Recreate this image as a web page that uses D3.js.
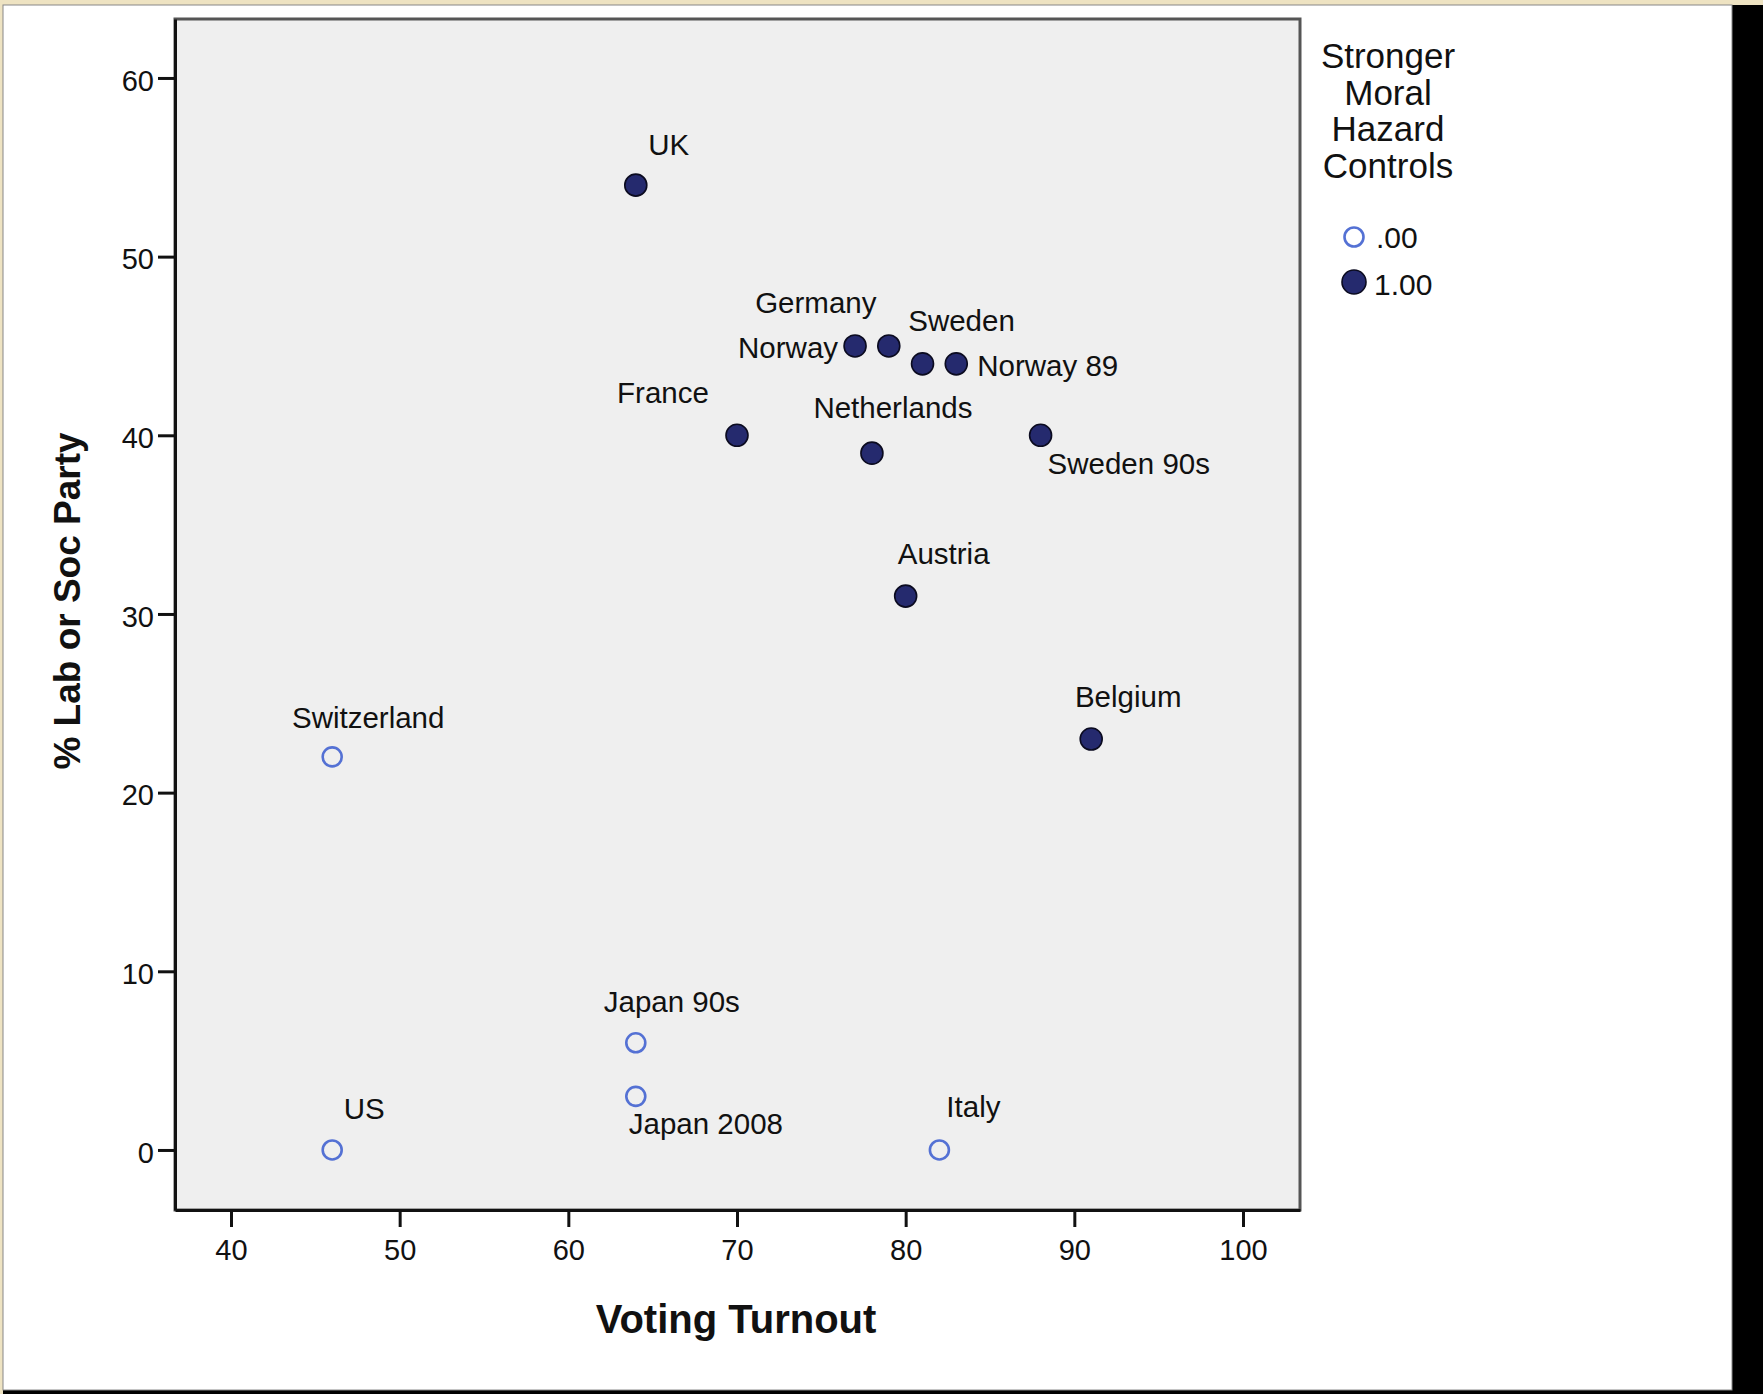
<!DOCTYPE html>
<html>
<head>
<meta charset="utf-8">
<script src="https://cdn.jsdelivr.net/npm/d3@7"></script>
<style>
  html, body { margin: 0; padding: 0; background: #eee3c2; }
  svg { display: block; }
  text { font-family: "Liberation Sans", Arial, Helvetica, sans-serif; fill: #111; }
</style>
</head>
<body>
<svg id="chart" width="1763" height="1394"></svg>
<script>
// ---- data ----
const countries = ["UK", "Germany", "Norway", "Sweden", "Norway 89", "France", "Netherlands",
                   "Sweden 90s", "Austria", "Belgium", "Switzerland", "Japan 90s", "Japan 2008", "US", "Italy"];
const turnout   = [64, 79, 77, 81, 83, 70, 78, 88, 80, 91, 46, 64, 64, 46, 82];
const labSoc    = [54, 45, 45, 44, 44, 40, 39, 40, 31, 23, 22, 6, 3, 0, 0];
const controls  = [1, 1, 1, 1, 1, 1, 1, 1, 1, 1, 0, 0, 0, 0, 0];
const xTicks = [40, 50, 60, 70, 80, 90, 100];
const yTicks = [0, 10, 20, 30, 40, 50, 60];
const legendValues = [0, 1];
const legendLabels = [".00", "1.00"];
const legendTitle = ["Stronger", "Moral", "Hazard", "Controls"];
const xTitle = "Voting Turnout";
const yTitle = "% Lab or Soc Party";

// ---- label placement (style, px offsets from the point) ----
const labelPlace = {
  "UK": [33, -30, "middle"],
  "Germany": [-73, -33, "middle"],
  "Norway": [-17, 12, "end"],
  "Sweden": [39, -33, "middle"],
  "Norway 89": [21, 12, "start"],
  "France": [-74, -32, "middle"],
  "Netherlands": [21, -35, "middle"],
  "Sweden 90s": [7, 39, "start"],
  "Austria": [38, -32, "middle"],
  "Belgium": [37, -32, "middle"],
  "Switzerland": [36, -29, "middle"],
  "Japan 90s": [36, -31, "middle"],
  "Japan 2008": [-7, 38, "start"],
  "US": [32, -31, "middle"],
  "Italy": [34, -33, "middle"]
};

const data = countries.map((c, i) => ({ name: c, x: turnout[i], y: labSoc[i], g: controls[i] }));

const svg = d3.select("#chart");

// page panel (white card with dark shadow edge)
svg.append("rect").attr("x", 0).attr("y", 0).attr("width", 1763).attr("height", 1394).attr("fill", "#eee3c2");
svg.append("rect").attr("x", 3).attr("y", 5).attr("width", 1760).attr("height", 1389).attr("fill", "#000");
svg.append("rect").attr("x", 3).attr("y", 5).attr("width", 1729).attr("height", 1385)
   .attr("fill", "#fff").attr("stroke", "#888").attr("stroke-width", 1);

const L = 175, R = 1300, T = 19, B = 1210;
const x = d3.scaleLinear().domain([36.68, 103.38]).range([L, R]);
const y = d3.scaleLinear().domain([-3.36, 63.30]).range([B, T]);

// plot background + frame
svg.append("rect").attr("x", L).attr("y", T).attr("width", R - L).attr("height", B - T)
   .attr("fill", "#efefef").attr("stroke", "#555").attr("stroke-width", 3);

// axes
const yAxis = svg.append("g").attr("transform", `translate(${L},0)`)
  .call(d3.axisLeft(y).tickValues(yTicks).tickFormat(d3.format("d")).tickSize(17).tickSizeOuter(0).tickPadding(4));
const xAxis = svg.append("g").attr("transform", `translate(0,${B})`)
  .call(d3.axisBottom(x).tickValues(xTicks).tickFormat(d3.format("d")).tickSize(17).tickSizeOuter(0).tickPadding(12));

[xAxis, yAxis].forEach(a => {
  a.select(".domain").attr("stroke", "#111").attr("stroke-width", 3);
  a.selectAll(".tick line").attr("stroke", "#111").attr("stroke-width", 3);
  a.selectAll(".tick text").attr("font-size", 29).attr("fill", "#111")
    .style("font-family", '"Liberation Sans", Arial, sans-serif');
});
yAxis.selectAll(".tick text").attr("dy", "0.42em");

// axis titles
svg.append("text").attr("x", 736).attr("y", 1333).attr("text-anchor", "middle")
   .attr("font-size", 40).attr("font-weight", "bold").text(xTitle);
svg.append("text").attr("transform", "translate(80,601) rotate(-90)").attr("text-anchor", "middle")
   .attr("font-size", 37).attr("font-weight", "bold").text(yTitle);

// points
const pts = svg.append("g");
pts.selectAll("circle").data(data).join("circle")
  .attr("cx", d => x(d.x)).attr("cy", d => y(d.y))
  .attr("r", d => d.g ? 11 : 9.5)
  .attr("fill", d => d.g ? "#252a6e" : "none")
  .attr("stroke", d => d.g ? "#0b0b20" : "#5471d4")
  .attr("stroke-width", d => d.g ? 1.6 : 2.6);

// point labels
svg.append("g").selectAll("text").data(data).join("text")
  .attr("x", d => x(d.x) + labelPlace[d.name][0])
  .attr("y", d => y(d.y) + labelPlace[d.name][1])
  .attr("text-anchor", d => labelPlace[d.name][2])
  .attr("font-size", 29.5)
  .text(d => d.name);

// legend
const lg = svg.append("g");
lg.selectAll("text.title").data(legendTitle).join("text").attr("class", "title")
  .attr("x", 1388).attr("y", (d, i) => 68 + i * 36.7).attr("text-anchor", "middle")
  .attr("font-size", 35).text(d => d);
const items = lg.selectAll("g.item").data(legendValues).join("g").attr("class", "item")
  .attr("transform", (d, i) => `translate(1354,${237 + i * 45})`);
items.append("circle")
  .attr("r", d => d ? 12 : 9.5)
  .attr("fill", d => d ? "#252a6e" : "none")
  .attr("stroke", d => d ? "#0b0b20" : "#5471d4")
  .attr("stroke-width", d => d ? 1.6 : 2.6);
items.append("text").attr("x", (d, i) => i ? 20 : 22).attr("y", (d, i) => i ? 13 : 11)
  .attr("font-size", 30).text((d, i) => legendLabels[i]);
</script>
</body>
</html>
